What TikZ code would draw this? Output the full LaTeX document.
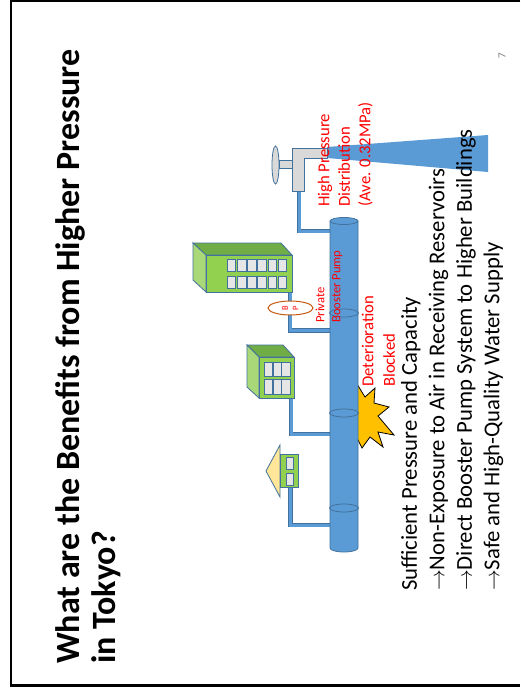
\documentclass[tikz,border=0pt]{standalone}
\usepackage{fontspec}
\setmainfont{Carlito}
\usetikzlibrary{shapes.geometric}

\definecolor{pipeblue}{HTML}{5B9BD5}
\definecolor{pipeedge}{HTML}{41719C}
\definecolor{wallfront}{HTML}{92D050}
\definecolor{walltop}{HTML}{70AD47}
\definecolor{wallside}{HTML}{A9D879}
\definecolor{glass}{HTML}{E7E6E6}
\definecolor{roofyellow}{HTML}{FFE699}
\definecolor{metal}{HTML}{D9D9D9}
\definecolor{bpring}{HTML}{C55A11}
\definecolor{flash}{HTML}{FFC000}

\begin{document}
\begin{tikzpicture}[x=1pt,y=-1pt,
  edge/.style={draw=pipeedge,line width=0.8pt},
  branch/.style={draw=pipeedge,line width=0.6pt,double=pipeblue,double distance=3pt},
  window/.style={draw=pipeedge,line width=0.6pt,fill=glass},
  label/.style={rotate=90,align=left,inner sep=0pt,anchor=north west},
  redlabel/.style={label,text=red,font=\fontsize{16.7}{20.5}\selectfont}]
\useasboundingbox (0,0) rectangle (520,688);
\fill[white] (0,0) rectangle (520,688);
\draw[line width=2.3pt] (520,1) -- (10.7,1) -- (10.7,685.5) -- (520,685.5);

% tap points on the main
\coordinate (tapA) at (330,231);
\coordinate (tapB) at (330,330.5);
\coordinate (tapC) at (330,434);
\coordinate (tapD) at (330,525);
\coordinate (faucet) at (299,191);
\coordinate (tower) at (290,292);
\coordinate (flats) at (291,398);
\coordinate (house) at (290.5,487);

% service pipes
\draw[branch] (faucet) |- (tapA);
\draw[branch] (tower) |- (tapB);
\draw[branch] (flats) |- (tapC);
\draw[branch] (house) |- (tapD);

% burst behind the main
\draw[fill=flash,line width=0.8pt] (357,384) -- (365,397) -- (375,388) -- (374,403) -- (389,407)
  -- (378,416) -- (394,435) -- (378,432) -- (383,447) -- (370,437) -- (362,448) -- (357,438)
  -- (345,430) -- (345,395) -- cycle;

% distribution main
\draw[edge,fill=pipeblue] (330,221) -- (330,548) arc[start angle=180,end angle=0,x radius=14,y radius=4] -- (358,221);
\draw[edge,fill=pipeblue] (344,221) ellipse[x radius=14,y radius=3.5];
\foreach \y in {313,413,508}
  \draw[edge] (344,\y) ellipse[x radius=14.5,y radius=4];

% faucet and jet
\fill[pipeblue] (327,147) -- (488,135) -- (488,172) -- (327,158) -- cycle;
\draw[edge,fill=metal] (292,148) -- (327,148) -- (327,158) -- (304,158) -- (304,191) -- (292,191) -- cycle;
\draw[edge,fill=metal] (279,160) rectangle (292,168);
\draw[edge,fill=metal] (275.5,165) ellipse[x radius=3.5,y radius=19];

% tall building
\draw[edge,fill=walltop] (193,243) -- (281,243) -- (292,255) -- (206,255) -- cycle;
\draw[edge,fill=wallside] (193,243) -- (206,255) -- (206,292) -- (193,280) -- cycle;
\draw[edge,fill=wallfront] (206,255) rectangle (292,292);
\foreach \i in {0,...,5}
  \foreach \j in {0,1}
    \draw[window] ({227+10.2*\i},{259+16.8*\j}) rectangle +(8.6,12.5);

% small building
\draw[edge,fill=walltop] (247,345) -- (283,345) -- (294,357) -- (259,357) -- cycle;
\draw[edge,fill=wallside] (247,345) -- (259,357) -- (259,398) -- (247,387) -- cycle;
\draw[edge,fill=wallfront] (259,357) rectangle (294,398);
\foreach \i in {0,1,2}
  \foreach \j in {0,1}
    \draw[window] ({264+8.8*\i},{362+17.5*\j}) rectangle +(8.2,14.5);

% house
\draw[edge,fill=roofyellow] (280,445) -- (266,471) -- (280,497) -- cycle;
\draw[edge,fill=wallfront] (280,454) rectangle (298,487);
\foreach \j in {0,1}
  \draw[window] (286,{457+16*\j}) rectangle +(7,12.5);

\node[ellipse,draw=bpring,line width=1pt,fill=white,minimum width=14,minimum height=45,inner sep=0pt,
  rotate=90,align=center,text=red,font=\fontsize{8.5}{10.5}\selectfont] (bp) at (290.5,308) {B\\P};

% labels
\node[redlabel] (hpd) at (317.5,207) {High Pressure\\Distribution\\(Ave. 0.32MPa)};
\node[label,text=red,font=\fontsize{12.6}{16}\selectfont] (pbp) at (315.5,323) {Private\\Booster Pump};
\node[redlabel,font=\fontsize{16.7}{21.5}\selectfont] (det) at (361.5,387) {Deterioration\\Blocked};
\node[label,font=\fontsize{22.7}{27.5}\selectfont] (merits) at (401,591)
  {Sufficient Pressure and Capacity\\
   $\rightarrow$Non-Exposure to Air in Receiving Reservoirs\\
   $\rightarrow$Direct Booster Pump System to Higher Buildings\\
   $\rightarrow$Safe and High-Quality Water Supply};
\node[label,font=\bfseries\fontsize{34}{36}\selectfont] (title) at (55,664)
  {What are the Benefits from Higher Pressure\\in Tokyo?};
\node[rotate=90,text=gray,font=\fontsize{11}{13}\selectfont] (pageno) at (502,56) {7};
\end{tikzpicture}
\end{document}
